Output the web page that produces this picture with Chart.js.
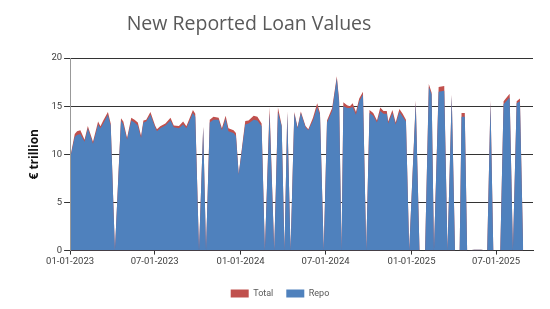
<!DOCTYPE html>
<html>
<head>
<meta charset="utf-8">
<script src="https://cdn.jsdelivr.net/npm/chart.js@4.4.0/dist/chart.umd.min.js"></script>
<style>
  body { margin: 0; background: #fff; }
</style>
</head>
<body>
<canvas id="loanChart" width="550" height="309"></canvas>
<script>
// reporting dates
const dates = [
  '2023-01-03','2023-01-11','2023-01-16','2023-01-23','2023-02-01','2023-02-08','2023-02-19','2023-03-02','2023-03-07','2023-03-13','2023-03-23','2023-03-29',
  '2023-04-07','2023-04-20','2023-04-25','2023-05-03','2023-05-12','2023-05-19','2023-05-26','2023-06-02','2023-06-07','2023-06-13','2023-06-22',
  '2023-07-02','2023-07-06','2023-07-13','2023-07-24','2023-08-04','2023-08-11','2023-08-22','2023-08-31','2023-09-07','2023-09-21','2023-09-26',
  '2023-10-04','2023-10-13','2023-10-19','2023-10-27','2023-11-04','2023-11-15','2023-11-22','2023-11-30','2023-12-06','2023-12-17','2023-12-22','2023-12-28',
  '2024-01-11','2024-01-18','2024-01-29','2024-02-06','2024-02-15','2024-02-22','2024-03-03','2024-03-13','2024-03-21','2024-03-29',
  '2024-04-04','2024-04-10','2024-04-17','2024-04-25','2024-05-02','2024-05-09','2024-05-19','2024-05-25','2024-06-04','2024-06-13','2024-06-19','2024-06-27',
  '2024-07-04','2024-07-15','2024-07-25','2024-07-30','2024-08-04','2024-08-08','2024-08-16','2024-08-22','2024-08-28','2024-09-04','2024-09-11','2024-09-19','2024-09-26',
  '2024-10-03','2024-10-11','2024-10-19','2024-10-26','2024-11-02','2024-11-09','2024-11-12','2024-11-21','2024-11-28','2024-12-06','2024-12-13','2024-12-20','2024-12-27',
  '2025-01-10','2025-01-18','2025-01-30','2025-02-07','2025-02-13','2025-02-18','2025-02-28','2025-03-12','2025-03-19','2025-03-28',
  '2025-04-04','2025-04-14','2025-04-18','2025-04-25','2025-04-30','2025-05-15','2025-05-30','2025-06-12','2025-06-19','2025-06-25',
  '2025-07-10','2025-07-17','2025-07-30','2025-08-06','2025-08-14','2025-08-21','2025-08-28'
];

// € trillion
const repoValues = [
  10.0, 11.8, 12.0, 12.1, 11.3, 12.7, 11.1, 13.1, 12.7, 13.2, 14.1, 13.0,
  0, 13.5, 13.1, 11.5, 13.5, 13.3, 13.0, 11.7, 13.3, 13.4, 14.1,
  12.8, 12.4, 12.7, 13.0, 13.5, 12.8, 12.7, 13.1, 12.7, 14.3, 13.9,
  0, 12.8, 0, 13.3, 13.6, 13.6, 12.5, 13.7, 12.4, 12.2, 11.9, 7.9,
  13.1, 13.2, 13.6, 13.5, 12.9, 0, 14.3, 0, 14.4, 12.9,
  0, 14.3, 0, 14.2, 12.7, 14.3, 12.8, 12.5, 13.5, 14.9, 14.1, 0,
  13.3, 14.5, 17.9, 15.4, 0, 15.0, 14.8, 14.8, 14.9, 14.1, 15.5, 16.2, 0,
  14.3, 14.0, 13.3, 14.5, 14.2, 14.2, 13.2, 14.3, 13.1, 14.4, 13.9, 13.4, 0,
  15.4, 0, 0, 17.0, 16.2, 0, 16.5, 16.6, 0, 16.1,
  0, 0, 13.9, 13.9, 0, 0.1, 0.1, 0, 15.4, 0,
  0, 15.2, 15.9, 0, 15.3, 15.5, 0
];

const totalValues = [
  10.1, 12.1, 12.4, 12.5, 11.5, 12.95, 11.3, 13.4, 12.9, 13.5, 14.4, 13.2,
  0, 13.75, 13.4, 11.7, 13.8, 13.6, 13.3, 11.9, 13.5, 13.6, 14.4,
  13.0, 12.6, 12.9, 13.2, 13.8, 13.0, 12.95, 13.4, 12.9, 14.6, 14.2,
  0, 12.9, 0, 13.6, 13.9, 13.8, 12.7, 14.0, 12.7, 12.5, 12.2, 7.95,
  13.45, 13.5, 14.0, 13.9, 13.2, 0, 14.9, 0, 14.85, 13.0,
  0, 14.5, 0, 14.4, 12.8, 14.45, 12.95, 12.6, 13.8, 15.3, 14.3, 0,
  13.5, 14.8, 18.1, 15.6, 0, 15.4, 15.1, 15.0, 15.3, 14.4, 15.8, 16.5, 0,
  14.6, 14.3, 13.5, 14.85, 14.5, 14.5, 13.4, 14.6, 13.3, 14.7, 14.2, 13.6, 0,
  15.6, 0, 0, 17.3, 16.4, 0, 17.0, 17.1, 0, 16.2,
  0, 0, 14.3, 14.3, 0, 0.1, 0.1, 0, 15.6, 0,
  0, 15.5, 16.3, 0, 15.5, 15.8, 0
];

const tickDates = ['2023-01-01', '2023-07-01', '2024-01-01', '2024-07-01', '2025-01-01', '2025-07-01'];
const axisStart = '2023-01-01';
const axisEnd = '2025-09-18';

const BASE = Date.UTC(2023, 0, 1);
const DAY = 86400000;

function dayNum(s) {
  const p = s.split('-');
  return (Date.UTC(+p[0], +p[1] - 1, +p[2]) - BASE) / DAY;
}

function fmtDay(d) {
  const dt = new Date(BASE + Math.round(d) * DAY);
  const mm = String(dt.getUTCMonth() + 1).padStart(2, '0');
  const dd = String(dt.getUTCDate()).padStart(2, '0');
  return mm + '-' + dd + '-' + dt.getUTCFullYear();
}

function toPoints(vals) {
  return dates.map((d, i) => ({ x: dayNum(d), y: vals[i] }));
}

// title is a bit left of centre in the original, so draw it by hand
const titlePlugin = {
  id: 'loanTitle',
  afterDraw(chart) {
    const ctx = chart.ctx;
    ctx.save();
    ctx.font = '19.5px "Open Sans"';
    ctx.fillStyle = '#595959';
    ctx.textAlign = 'center';
    ctx.textBaseline = 'alphabetic';
    ctx.fillText('New Reported Loan Values', 249, 30);
    ctx.restore();
  }
};

const ctx = document.getElementById('loanChart');
new Chart(ctx, {
  type: 'line',
  data: {
    datasets: [
      {
        label: 'Repo',
        data: toPoints(repoValues),
        backgroundColor: '#4f81bd',
        borderColor: '#4f81bd',
        borderWidth: 0,
        pointRadius: 0,
        fill: 'origin',
        tension: 0
      },
      {
        label: 'Total',
        data: toPoints(totalValues),
        backgroundColor: '#c0504d',
        borderColor: '#c0504d',
        borderWidth: 0,
        pointRadius: 0,
        fill: 'origin',
        tension: 0
      }
    ]
  },
  options: {
    responsive: false,
    animation: false,
    devicePixelRatio: 1,
    layout: { padding: { top: 58, left: 27, right: 17, bottom: 1 } },
    plugins: {
      title: { display: false },
      tooltip: { enabled: false },
      legend: {
        position: 'bottom',
        reverse: true,
        labels: {
          boxWidth: 18,
          boxHeight: 8,
          padding: 13,
          color: '#595959',
          font: { family: 'Roboto', size: 9 }
        }
      }
    },
    scales: {
      x: {
        type: 'linear',
        min: dayNum(axisStart),
        max: dayNum(axisEnd),
        afterBuildTicks(scale) {
          scale.ticks = tickDates.map(d => ({ value: dayNum(d) }));
        },
        afterFit(scale) {
          // extra gap between the date labels and the legend
          scale.height += 8;
        },
        ticks: {
          autoSkip: false,
          maxRotation: 0,
          padding: 1,
          color: '#404040',
          font: { family: 'Roboto', size: 9.5 },
          callback: (v) => fmtDay(v)
        },
        grid: { drawOnChartArea: false, tickLength: 4, tickColor: '#333' },
        border: { color: '#333', width: 1 }
      },
      y: {
        min: 0,
        max: 20,
        ticks: {
          stepSize: 5,
          padding: 2,
          color: '#404040',
          font: { family: 'Roboto', size: 9.5 }
        },
        grid: { color: '#333', tickLength: 6, tickColor: '#333' },
        border: { color: '#999', width: 1 },
        title: {
          display: true,
          text: '€ trillion',
          color: '#111',
          font: { family: 'Open Sans', size: 12, weight: 'bold' },
          padding: { top: 0, bottom: 8 }
        }
      }
    }
  },
  plugins: [titlePlugin]
});
</script>
</body>
</html>
